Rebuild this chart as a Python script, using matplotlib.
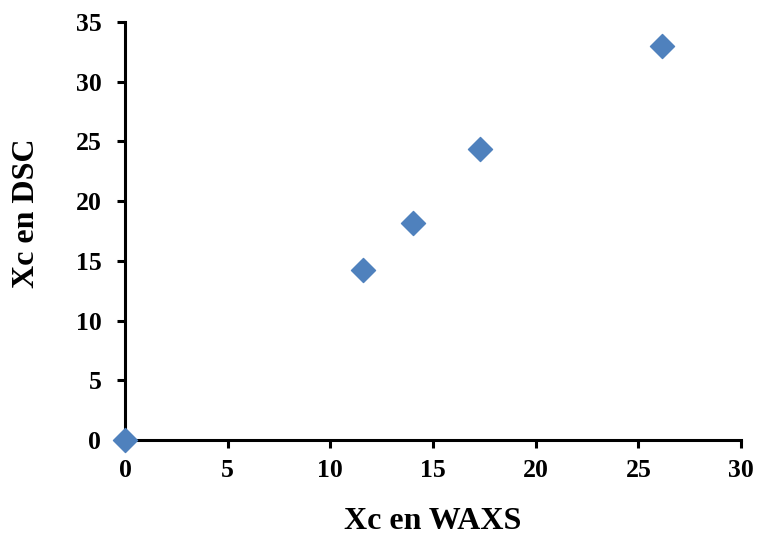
import matplotlib
matplotlib.use('Agg')
import matplotlib.pyplot as plt

# values
xc_waxs = [0, 11.6, 14.05, 17.3, 26.15]
xc_dsc = [0, 14.25, 18.15, 24.4, 32.95]
x_ticks = [0, 5, 10, 15, 20, 25, 30]
y_ticks = [0, 5, 10, 15, 20, 25, 30, 35]

plt.rcParams['font.family'] = 'Liberation Serif'
plt.rcParams['font.weight'] = 'bold'

fig = plt.figure(figsize=(7.57, 5.5), dpi=100)
ax = fig.add_axes([0.1651, 0.2, 0.8138, 0.76])

ax.scatter(xc_waxs, xc_dsc, marker='D', s=150, color='#4f81bd', zorder=3, clip_on=False)

ax.set_xlim(0, 30)
ax.set_ylim(0, 35)
ax.set_xticks(x_ticks)
ax.set_yticks(y_ticks)
ax.tick_params(labelsize=18.5, width=2.2, length=6, direction='out')
ax.tick_params(axis='y', pad=11)
ax.tick_params(axis='x', pad=8)
for lab in ax.get_xticklabels() + ax.get_yticklabels():
    lab.set_fontweight('bold')

for side in ['top', 'right']:
    ax.spines[side].set_visible(False)
for side in ['left', 'bottom']:
    ax.spines[side].set_linewidth(2.2)

ax.set_xlabel('Xc en WAXS', fontsize=23, fontweight='bold', labelpad=18)
ax.set_ylabel('Xc en DSC', fontsize=23, fontweight='bold')
ax.yaxis.set_label_coords(-0.137, 0.543)

fig.savefig('out.png', dpi=100)
